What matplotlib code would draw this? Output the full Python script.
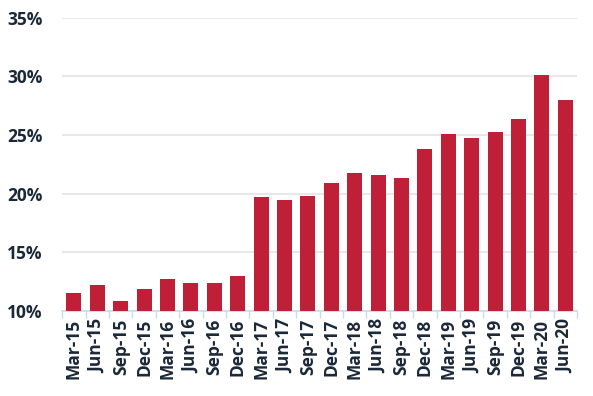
import matplotlib
matplotlib.use("Agg")
import matplotlib.pyplot as plt
import numpy as np

# quarters and share values (%)
quarters = ["Mar-15", "Jun-15", "Sep-15", "Dec-15", "Mar-16", "Jun-16", "Sep-16", "Dec-16",
            "Mar-17", "Jun-17", "Sep-17", "Dec-17", "Mar-18", "Jun-18", "Sep-18", "Dec-18",
            "Mar-19", "Jun-19", "Sep-19", "Dec-19", "Mar-20", "Jun-20"]
values = [11.5, 12.2, 10.85, 11.9, 12.7, 12.4, 12.4, 13.0,
          19.7, 19.5, 19.8, 20.9, 21.75, 21.6, 21.35, 23.8,
          25.1, 24.75, 25.3, 26.4, 30.15, 28.0]
y_ticks = [10, 15, 20, 25, 30, 35]

text_color = "#1b2838"
bar_color = "#c01f38"

plt.rcParams['font.family'] = ['Open Sans', 'DejaVu Sans']

fig = plt.figure(figsize=(5.93, 3.96), dpi=100)
ax = fig.add_axes([0.105, 0.215, 0.868, 0.74])

x = np.arange(len(quarters))
ax.bar(x, values, width=0.64, color=bar_color, bottom=0, zorder=3)

ax.set_ylim(10, 35)
ax.set_xlim(-0.5, len(quarters) - 0.5)
ax.set_yticks(y_ticks)
ax.set_yticklabels([f"{t}%" for t in y_ticks], fontsize=12.5, fontweight='bold', color=text_color)
ax.set_xticks(x)
ax.set_xticklabels(quarters, rotation=90, fontsize=12.5, fontweight='bold', color=text_color)
ax.set_xticks(np.arange(-0.5, len(quarters), 1), minor=True)

ax.tick_params(axis='y', length=0, pad=14)
ax.tick_params(axis='x', which='major', length=0, pad=6)
ax.tick_params(axis='x', which='minor', length=5, color="#c9dcea", width=1)

ax.grid(axis='y', color="#e4e4e4", linewidth=1.2, zorder=0)
for s in ['top', 'right', 'left']:
    ax.spines[s].set_visible(False)
ax.spines['bottom'].set_color("#c9dcea")
ax.spines['bottom'].set_linewidth(1.2)

fig.savefig("out.png", dpi=100)
